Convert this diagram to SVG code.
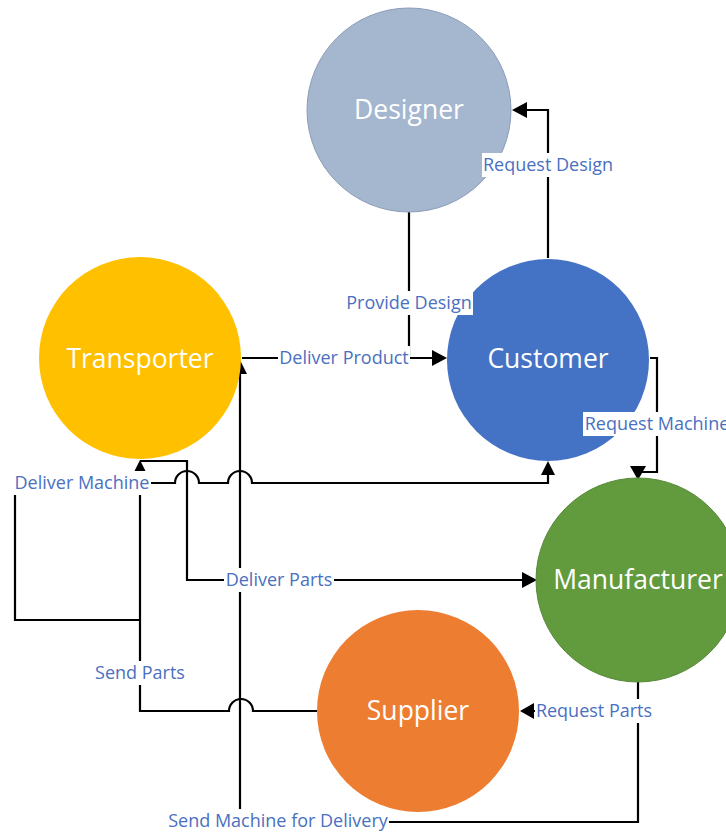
<svg xmlns="http://www.w3.org/2000/svg" width="726" height="835" viewBox="0 0 726 835">
<style>
.n{font-family:"Open Sans","Liberation Sans",sans-serif;font-size:26.5px;fill:#fff;text-anchor:middle;dominant-baseline:central}
.l{font-family:"Open Sans","Liberation Sans",sans-serif;font-size:18px;fill:#4A70C0;text-anchor:middle;dominant-baseline:central}
.c{fill:none;stroke:#000;stroke-width:2.2}
.bg{fill:#fff}
</style>
<rect width="726" height="835" fill="#fff"/>
<g id="connectors">
<!-- Request Design -->
<path class="c" d="M548,258 V110 H526"/>
<path d="M512,110 L527,102 L527,118 Z"/>
<!-- Provide Design -->
<path class="c" d="M409,212 V358 H433"/>
<!-- Deliver Product -->
<path class="c" d="M242,358 H433"/>
<path d="M447,358 L432,350 L432,366 Z"/>
<!-- Request Machine -->
<path class="c" d="M650,358 H657 V472 H638 V466"/>
<path d="M638,480 L630,466 L646,466 Z"/>
<!-- Send Parts -->
<path class="c" d="M317,711 H253 A12,12 0 0 0 229,711 H140 V474"/>
<path d="M140,460 L133,474 L147,474 Z"/>
<!-- Deliver Parts -->
<path class="c" d="M140,461 H187 V580 H523"/>
<path d="M537,580 L522,572 L522,588 Z"/>
<!-- Deliver Machine -->
<path class="c" d="M140,620 H15 V483 H175 A12,12 0 0 1 199,483 H228 A12,12 0 0 1 252,483 H548 V475"/>
<path d="M548,461 L541,475 L555,475 Z"/>
<!-- Send Machine for Delivery -->
<path class="c" d="M638,682 V822 H240 V374"/>
<path d="M240,360 L233,374 L247,374 Z"/>
<!-- Request Parts -->
<path class="c" d="M638,711 H534"/>
<path d="M520,711 L534,703 L534,719 Z"/>
</g>
<g id="designer"><circle cx="409" cy="110" r="102" fill="#A5B6CF" stroke="#8C9DB8" stroke-width="1"/><text class="n" x="409" y="109">Designer</text></g>
<g id="customer"><circle cx="548" cy="360" r="101" fill="#4472C4"/><text class="n" x="548" y="358">Customer</text></g>
<g id="transporter"><circle cx="140" cy="358" r="101" fill="#FFC000"/><text class="n" x="140" y="358">Transporter</text></g>
<g id="manufacturer"><circle cx="638" cy="580" r="102" fill="#629B3E" stroke="#57893A" stroke-width="1"/><text class="n" x="638" y="579">Manufacturer</text></g>
<g id="supplier"><circle cx="418" cy="711" r="101" fill="#ED7D31"/><text class="n" x="418" y="710">Supplier</text></g>
<g id="labels">
<rect class="bg" x="482" y="153" width="132" height="24"/><text class="l" x="548" y="164">Request Design</text>
<rect class="bg" x="345" y="291" width="128" height="24"/><text class="l" x="409" y="302">Provide Design</text>
<rect class="bg" x="278" y="346" width="132" height="24"/><text class="l" x="344" y="357">Deliver Product</text>
<rect class="bg" x="583" y="412" width="148" height="24"/><text class="l" x="657" y="423">Request Machine</text>
<rect class="bg" x="13" y="471" width="138" height="24"/><text class="l" x="82" y="482">Deliver Machine</text>
<rect class="bg" x="224" y="568" width="110" height="24"/><text class="l" x="279" y="579">Deliver Parts</text>
<rect class="bg" x="95" y="661" width="94" height="24"/><text class="l" x="140" y="672">Send Parts</text>
<rect class="bg" x="535" y="699" width="118" height="24"/><text class="l" x="594" y="710">Request Parts</text>
<rect class="bg" x="167" y="809" width="222" height="24"/><text class="l" x="278" y="820">Send Machine for Delivery</text>
</g>
</svg>
